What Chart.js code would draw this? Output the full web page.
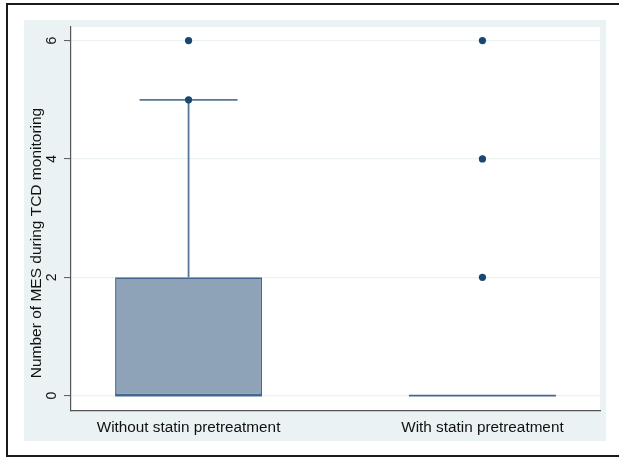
<!DOCTYPE html>
<html>
<head>
<meta charset="utf-8">
<script src="https://cdn.jsdelivr.net/npm/chart.js@4/dist/chart.umd.min.js"></script>
<style>
  html, body { margin: 0; padding: 0; background: #ffffff; }
  #wrap { position: absolute; left: 0; top: 0; width: 619px; height: 458px; }
</style>
</head>
<body>
<div id="wrap"><canvas id="c" width="619" height="458"></canvas></div>
<script>
// ---- Data ----
const categories = ['Without statin pretreatment', 'With statin pretreatment'];
const groupPositions = [1, 2];
const q1Values = [0, 0];
const medianValues = [0, 0];
const q3Values = [2, 0];
const lowerWhisker = [0, 0];
const upperWhisker = [5, 0];
const outliers = [[5, 6], [2, 4, 6]];
const yTickValues = [0, 2, 4, 6];
const yTitle = 'Number of MES during TCD monitoring';

// ---- Style constants ----
const BOX_WIDTH = 0.5;      // in x units
const CAP_HALF = 0.1667;    // half width of whisker cap, x units
const boxFill = '#8ea3b8';
const boxEdge = '#456890';
const lineColor = '#557699';
const dotColor = '#1a476f';
const FONT = 'Liberation Sans, Arial, sans-serif';

const datasets = [];

// outlier dots (drawn on top)
const dotData = [];
groupPositions.forEach((g, i) => outliers[i].forEach(v => dotData.push({x: g, y: v})));
datasets.push({
  type: 'scatter', data: dotData, order: 0,
  pointRadius: 3.6, pointHoverRadius: 3.6,
  pointBackgroundColor: dotColor, pointBorderColor: dotColor, pointBorderWidth: 0
});

// whiskers, caps, medians
groupPositions.forEach((g, i) => {
  datasets.push({
    type: 'line', order: 1, borderColor: lineColor, borderWidth: 1.8, pointRadius: 0, fill: false,
    data: [{x: g, y: q3Values[i]}, {x: g, y: upperWhisker[i]}]
  });
  datasets.push({
    type: 'line', order: 1, borderColor: lineColor, borderWidth: 1.8, pointRadius: 0, fill: false,
    data: [{x: g, y: q1Values[i]}, {x: g, y: lowerWhisker[i]}]
  });
  if (upperWhisker[i] !== q3Values[i]) {
    datasets.push({
      type: 'line', order: 1, borderColor: lineColor, borderWidth: 1.8, pointRadius: 0, fill: false,
      data: [{x: g - CAP_HALF, y: upperWhisker[i]}, {x: g + CAP_HALF, y: upperWhisker[i]}]
    });
  }
  datasets.push({
    type: 'line', order: 1, borderColor: boxEdge, borderWidth: 1.8, pointRadius: 0, fill: false,
    data: [{x: g - BOX_WIDTH / 2, y: medianValues[i]}, {x: g + BOX_WIDTH / 2, y: medianValues[i]}]
  });
});

// boxes (floating bars)
datasets.push({
  type: 'bar', order: 2,
  data: groupPositions.map((g, i) => ({x: g, y: [q1Values[i], q3Values[i]]})),
  backgroundColor: boxFill, borderColor: boxEdge, borderWidth: 1.6, borderSkipped: false,
  barPercentage: BOX_WIDTH, categoryPercentage: 1.0
});

const bgPlugin = {
  id: 'bg',
  beforeDraw(chart) {
    const ctx = chart.ctx;
    const a = chart.chartArea;
    ctx.save();
    ctx.fillStyle = '#ffffff';
    ctx.fillRect(0, 0, chart.width, chart.height);
    ctx.strokeStyle = '#1b1b1b';
    ctx.lineWidth = 2;
    ctx.strokeRect(7, 4, 640, 452);
    ctx.fillStyle = '#eaf2f3';
    ctx.fillRect(24, 20, 582, 421);
    ctx.fillStyle = '#ffffff';
    ctx.fillRect(a.left, a.top, a.right - a.left, a.bottom - a.top);
    ctx.restore();
  },
  afterDraw(chart) {
    // y-axis title, placed as in the reference (slightly below the axis middle)
    const ctx = chart.ctx;
    const y = chart.scales.y;
    ctx.save();
    ctx.translate(37, (y.top + y.bottom) / 2 + 24);
    ctx.rotate(-Math.PI / 2);
    ctx.fillStyle = '#111';
    ctx.font = '15.5px ' + FONT;
    ctx.textAlign = 'center';
    ctx.textBaseline = 'middle';
    ctx.fillText(yTitle, 0, 0);
    ctx.restore();
  }
};

new Chart(document.getElementById('c'), {
  type: 'bar',
  data: { datasets },
  plugins: [bgPlugin],
  options: {
    responsive: false,
    animation: false,
    events: [],
    layout: { padding: { left: 24, top: 27, right: 19, bottom: 0 } },
    plugins: { legend: { display: false }, tooltip: { enabled: false } },
    scales: {
      x: {
        type: 'linear', min: 0.6, max: 2.4, offset: false,
        afterFit(s) { s.height = 47; },
        afterBuildTicks(s) { s.ticks = groupPositions.map(v => ({value: v})); },
        ticks: {
          callback: (v) => categories[groupPositions.indexOf(v)] || '',
          color: '#111', padding: 0, maxRotation: 0, minRotation: 0, autoSkip: false,
          font: { family: FONT, size: 15.3 }
        },
        grid: { display: false },
        border: { display: true, color: '#555', width: 1.2 }
      },
      y: {
        type: 'linear', min: -0.26, max: 6.23,
        afterFit(s) { s.width = 47; },
        afterBuildTicks(s) { s.ticks = yTickValues.map(v => ({value: v})); },
        ticks: {
          color: '#111', padding: 8, minRotation: 90, maxRotation: 90, crossAlign: 'center',
          font: { family: FONT, size: 14 }
        },
        grid: { color: '#eaf2f3', lineWidth: 1.2, drawTicks: true, tickLength: 7, tickColor: '#555', tickWidth: 1 },
        border: { display: true, color: '#555', width: 1.2 },
        title: { display: false }
      }
    }
  }
});
</script>
</body>
</html>
